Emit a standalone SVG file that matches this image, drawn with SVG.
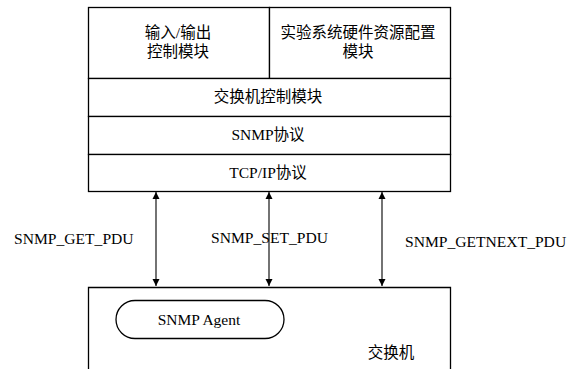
<svg xmlns="http://www.w3.org/2000/svg" width="575" height="369" viewBox="0 0 575 369">
<style>
.box{fill:#fff;stroke:#000;stroke-width:1.3}
.t{font-family:"Liberation Serif","Noto Sans CJK SC",serif;font-size:15.5px;fill:#000;text-anchor:middle}
.lab{font-family:"Liberation Serif",serif;font-size:15.6px;fill:#000}
.conn{stroke:#000;stroke-width:1.1;fill:none;marker-start:url(#ah);marker-end:url(#ah)}
</style>
<defs>
<marker id="ah" viewBox="0 0 10 10" refX="10" refY="5" markerWidth="7" markerHeight="10" markerUnits="userSpaceOnUse" orient="auto-start-reverse">
<path d="M0,0 L10,5 L0,10 Z" fill="#000"/>
</marker>
</defs>
<rect width="575" height="369" fill="#fff"/>
<g id="io-module">
<rect class="box" x="88.5" y="7.5" width="181" height="71"/>
<text class="t" x="178" y="38">输入/输出</text>
<text class="t" x="178" y="57">控制模块</text>
</g>
<g id="hw-config-module">
<rect class="box" x="269.5" y="7.5" width="181" height="71"/>
<text class="t" x="358" y="38">实验系统硬件资源配置</text>
<text class="t" x="358" y="57">模块</text>
</g>
<g id="switch-control-module">
<rect class="box" x="88.5" y="78.5" width="362" height="38"/>
<text class="t" x="268" y="102">交换机控制模块</text>
</g>
<g id="snmp-protocol">
<rect class="box" x="88.5" y="116.5" width="362" height="38"/>
<text class="t" x="268" y="140">SNMP协议</text>
</g>
<g id="tcpip-protocol">
<rect class="box" x="88.5" y="154.5" width="362" height="37"/>
<text class="t" x="268" y="178">TCP/IP协议</text>
</g>
<g id="switch">
<path class="box" d="M88.5,380 V287.5 H450.5 V380"/>
<text class="t" x="391" y="358">交换机</text>
</g>
<g id="snmp-agent">
<rect class="box" x="116" y="300.5" width="168" height="38" rx="19" ry="19"/>
<text class="t" x="199" y="325">SNMP Agent</text>
</g>
<g id="connectors">
<line class="conn" x1="156" y1="192" x2="156" y2="286"/>
<line class="conn" x1="269" y1="192" x2="269" y2="286"/>
<line class="conn" x1="382" y1="192" x2="382" y2="286"/>
<text class="lab" x="14" y="244">SNMP_GET_PDU</text>
<text class="lab" x="211" y="243">SNMP_SET_PDU</text>
<text class="lab" x="405" y="247">SNMP_GETNEXT_PDU</text>
</g>
</svg>
